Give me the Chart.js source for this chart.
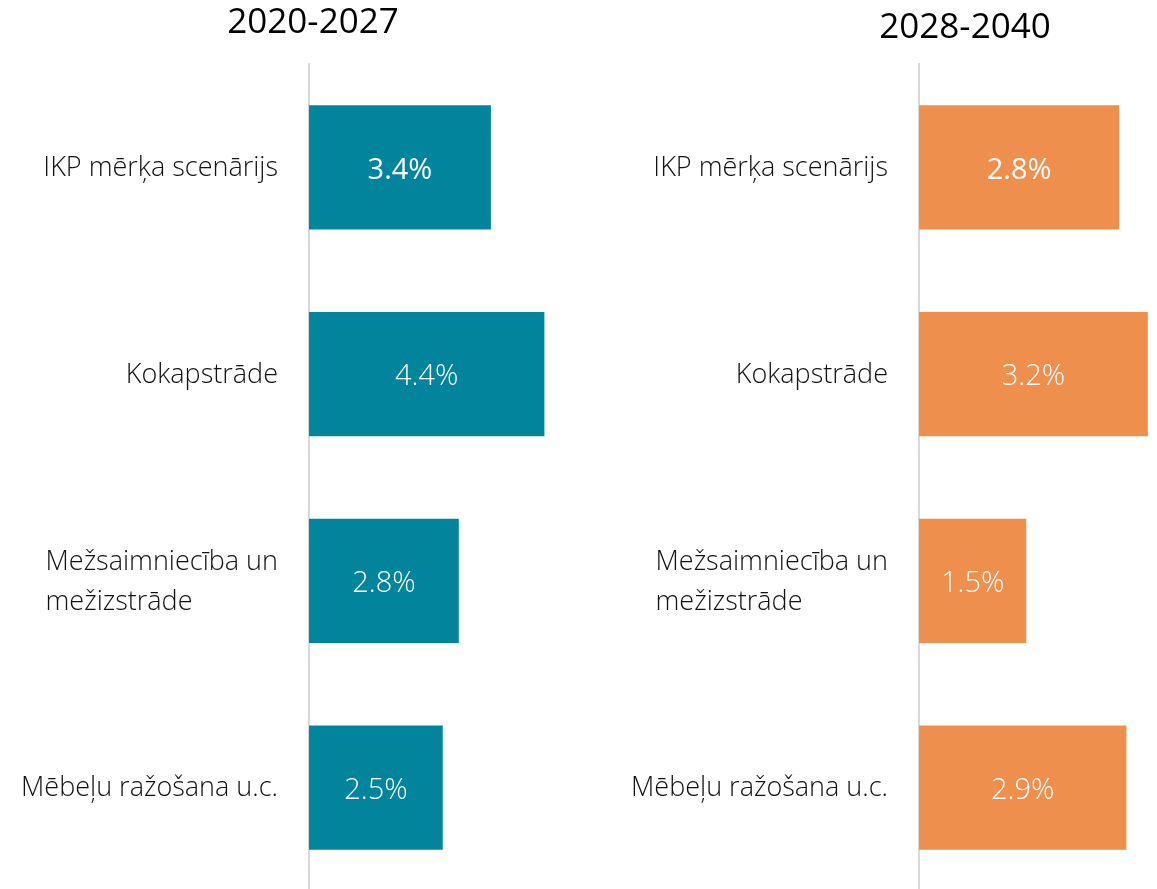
<!DOCTYPE html>
<html>
<head>
<meta charset="utf-8">
<script src="https://cdn.jsdelivr.net/npm/chart.js@4.4.1/dist/chart.umd.min.js"></script>
<style>
html,body{margin:0;padding:0;background:#fff;overflow:hidden;width:1157px;height:889px}
.box{position:absolute;top:0;height:891px}
#leftBox{left:0;width:580px}
#rightBox{left:580px;width:577px}
</style>
</head>
<body>
<div class="box" id="leftBox"><canvas id="leftChart"></canvas></div>
<div class="box" id="rightBox"><canvas id="rightChart"></canvas></div>
<script>
// data
var categories = ["IKP mērķa scenārijs", "Kokapstrāde", ["Mežsaimniecība un", "mežizstrāde"], "Mēbeļu ražošana u.c."];
var periods = ["2020-2027", "2028-2040"];
var growth2020 = [3.4, 4.4, 2.8, 2.5];
var growth2028 = [2.8, 3.2, 1.5, 2.9];

var FONT = "'Open Sans', 'Noto Sans', sans-serif";

// draws title, category labels and value labels
var panelText = {
    id: "panelText",
    afterDatasetsDraw: function(chart, args, opts){
        var ctx = chart.ctx;
        var yScale = chart.scales.y;
        var meta = chart.getDatasetMeta(0);
        ctx.save();
        // title
        ctx.fillStyle = "#000";
        ctx.font = "500 35px " + FONT;
        ctx.textAlign = "center";
        ctx.textBaseline = "middle";
        ctx.fillText(opts.title, opts.titleX, opts.titleY);

        // category labels, lines left aligned inside a right aligned block
        ctx.font = "300 27px " + FONT;
        ctx.fillStyle = "#111";
        ctx.textAlign = "left";
        categories.forEach(function(lab, i){
            var lines = Array.isArray(lab) ? lab : [lab];
            var w = 0;
            lines.forEach(function(l){ w = Math.max(w, ctx.measureText(l).width); });
            var x = yScale.right - 31 - w;
            var yc = yScale.getPixelForValue(i) + 1;
            var lh = 40;
            lines.forEach(function(l, k){
                ctx.fillText(l, x, yc + (k - (lines.length - 1) / 2) * lh);
            });
        });

        // values inside bars
        ctx.fillStyle = "#fff";
        ctx.textAlign = "center";
        meta.data.forEach(function(bar, i){
            var v = chart.data.datasets[0].data[i];
            ctx.font = (i === 0 ? "400 " : "300 ") + "29px " + FONT;
            ctx.fillText(v.toFixed(1) + "%", (bar.base + bar.x) / 2, bar.y + 3);
        });
        ctx.restore();
    }
};

function makeChart(id, values, colour, xMax, axisW, padRight, title, titleX, titleY){
    var ctx = document.getElementById(id).getContext("2d");
    return new Chart(ctx, {
        type: "bar",
        data: {
            labels: categories,
            datasets: [{
                data: values,
                backgroundColor: colour,
                borderWidth: 0,
                categoryPercentage: 1,
                barPercentage: 0.6
            }]
        },
        options: {
            indexAxis: "y",
            responsive: true,
            maintainAspectRatio: false,
            animation: false,
            layout: {padding: {top: 64, right: padRight, left: 0, bottom: 0}},
            plugins: {
                legend: {display: false},
                tooltip: {enabled: false},
                title: {display: false},
                panelText: {title: title, titleX: titleX, titleY: titleY}
            },
            scales: {
                x: {display: false, min: 0, max: xMax},
                y: {
                    grid: {display: false},
                    border: {display: true, color: "#d9d9d9", width: 2},
                    ticks: {display: false},
                    afterFit: function(scale){ scale.width = axisW; }
                }
            }
        },
        plugins: [panelText]
    });
}

makeChart("leftChart", growth2020, "#02849c", 5, 309, 3.5, periods[0], 313, 23);
makeChart("rightChart", growth2028, "#ef8f4e", 3.3, 339, 2, periods[1], 385, 28);
</script>
</body>
</html>
